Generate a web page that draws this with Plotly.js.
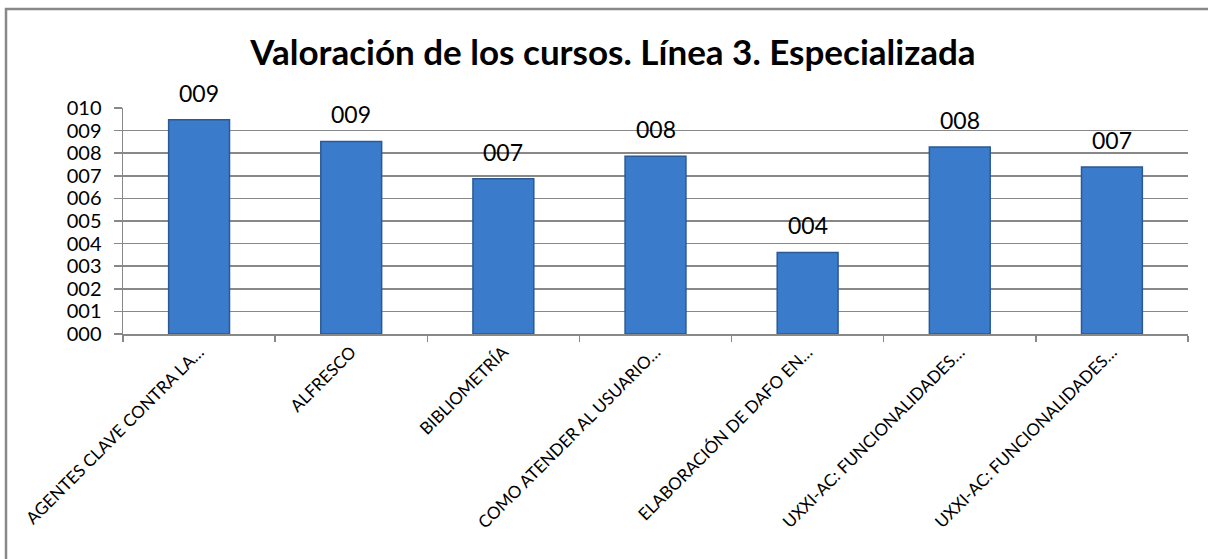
<!DOCTYPE html>
<html>
<head>
<meta charset="utf-8">
<script src="https://cdn.plot.ly/plotly-3.0.1.min.js"></script>
<style>
  html, body { margin: 0; padding: 0; background: #ffffff; overflow: hidden; }
  #chart { width: 1208px; height: 559px; }
</style>
</head>
<body>
<div id="chart"></div>
<script>
const titleText = "Valoración de los cursos. Línea 3. Especializada";
const categories = [
  "AGENTES CLAVE CONTRA LA…",
  "ALFRESCO",
  "BIBLIOMETRÍA",
  "COMO ATENDER AL USUARIO…",
  "ELABORACIÓN DE DAFO EN…",
  "UXXI-AC: FUNCIONALIDADES…",
  "UXXI-AC: FUNCIONALIDADES…"
];
const values = [9.48, 8.52, 6.87, 7.86, 3.61, 8.27, 7.39];
const yTickVals = [0, 1, 2, 3, 4, 5, 6, 7, 8, 9, 10];

const positions = categories.map((c, i) => i);
const fmt = v => String(Math.round(v)).padStart(3, "0");
const FONT = "Lato, 'Open Sans', sans-serif";

const W = 1208, H = 559;
const M = { l: 123, r: 20, t: 108, b: 225 };
const pw = W - M.l - M.r, ph = H - M.t - M.b;
// chart-area frame (left and top edges visible), in paper coordinates
const fx = (6 - M.l) / pw, fy = (H - M.b - 9) / ph;

const trace = {
  type: "bar",
  x: positions,
  y: values,
  width: 0.4,
  marker: {
    color: "#3b7bcb",
    line: { color: "#2b5a93", width: 1.5 }
  },
  hoverinfo: "skip"
};

const annotations = positions.map((p, i) => ({
  x: p, y: values[i], xref: "x", yref: "y",
  text: fmt(values[i]),
  showarrow: false,
  yanchor: "bottom",
  yshift: 11,
  font: { family: FONT, size: 23, color: "#000000" }
}));

const layout = {
  width: W,
  height: H,
  margin: { l: M.l, r: M.r, t: M.t, b: M.b, pad: 0 },
  paper_bgcolor: "#ffffff",
  plot_bgcolor: "#ffffff",
  showlegend: false,
  title: {
    text: "<b>" + titleText + "</b>",
    font: { family: FONT, size: 35, color: "#000000" },
    xref: "container", yref: "container",
    x: 613 / W, xanchor: "center",
    y: 1 - 53 / H, yanchor: "middle"
  },
  xaxis: {
    range: [-0.5, 6.5],
    tickmode: "array",
    tickvals: positions,
    ticktext: categories,
    tickangle: -45,
    ticks: "",
    showgrid: false,
    zeroline: false,
    showline: true,
    linecolor: "#888888",
    linewidth: 1.5,
    tickfont: { family: FONT, size: 17, color: "#000000" },
    minor: { tick0: -0.5, dtick: 1, ticks: "outside", ticklen: 6, tickcolor: "#888888", tickwidth: 1.5, showgrid: false },
    fixedrange: true
  },
  yaxis: {
    range: [0, 10],
    tickmode: "array",
    tickvals: yTickVals,
    ticktext: yTickVals.map(fmt),
    ticks: "outside",
    ticklen: 8,
    tickcolor: "#888888",
    tickwidth: 1.5,
    ticklabelstandoff: 8,
    showgrid: true,
    gridcolor: "#888888",
    gridwidth: 1.5,
    zeroline: false,
    showline: true,
    linecolor: "#888888",
    linewidth: 1.5,
    tickfont: { family: FONT, size: 20, color: "#000000" },
    fixedrange: true
  },
  shapes: [{
    type: "path", xref: "paper", yref: "paper",
    path: `M ${fx} -2 L ${fx} ${fy} L 1.2 ${fy}`,
    line: { color: "#888888", width: 2.5 },
    layer: "above"
  }],
  annotations: annotations
};

Plotly.newPlot("chart", [trace], layout, { displayModeBar: false, staticPlot: true });
</script>
</body>
</html>
